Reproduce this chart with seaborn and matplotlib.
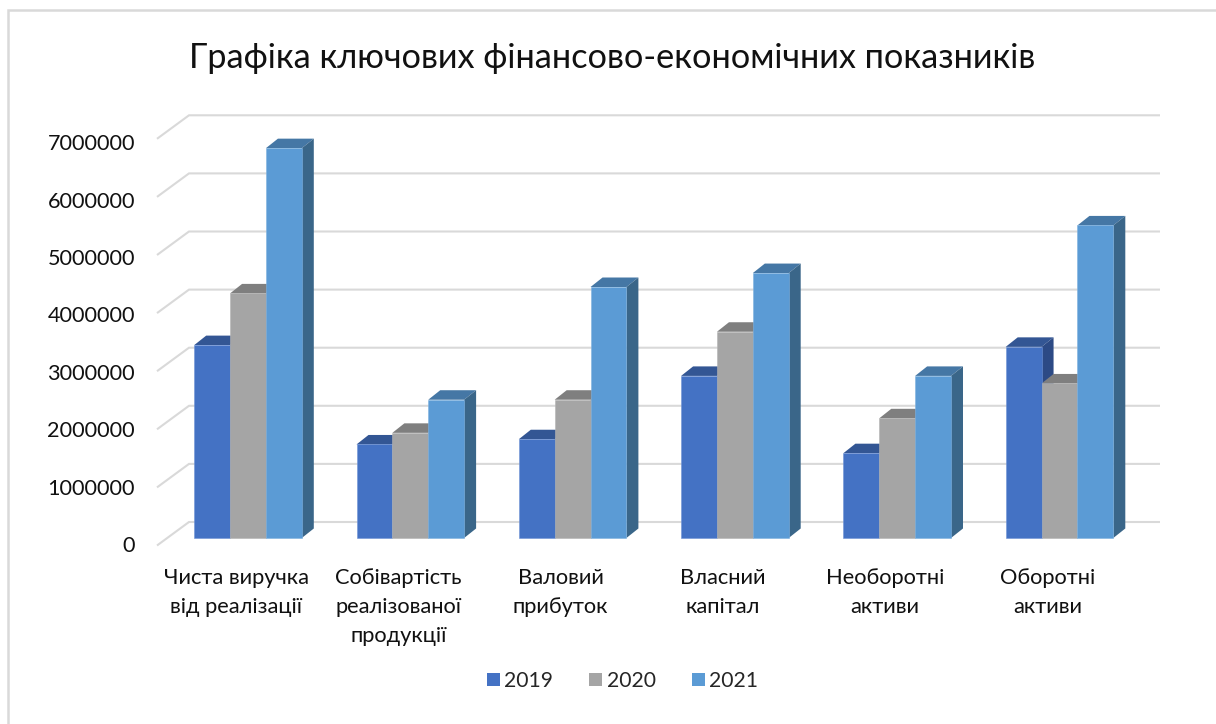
import matplotlib
matplotlib.use("Agg")
import matplotlib.pyplot as plt
from matplotlib.lines import Line2D
import pandas as pd
import seaborn as sns

categories = [
    "Чиста виручка\nвід реалізації",
    "Собівартість\nреалізованої\nпродукції",
    "Валовий\nприбуток",
    "Власний\nкапітал",
    "Необоротні\nактиви",
    "Оборотні\nактиви",
]
years = ["2019", "2020", "2021"]
values_2019 = [3320000, 1610000, 1700000, 2790000, 1460000, 3290000]
values_2020 = [4210000, 1810000, 2380000, 3550000, 2060000, 2660000]
values_2021 = [6710000, 2380000, 4320000, 4560000, 2790000, 5380000]
tick_values = [0, 1000000, 2000000, 3000000, 4000000, 5000000, 6000000, 7000000]

front_colors = ["#4472C4", "#A5A5A5", "#5B9BD5"]
edge_colors = ["#6F93D6", "#B4B4B4", "#7FB2E0"]
top_colors = ["#335694", "#7F7F7F", "#4577A5"]
side_colors = ["#2C4A85", "#7A7A7A", "#3A6689"]
grid_color = "#D9D9D9"
font_list = ["Lato", "Open Sans", "DejaVu Sans"]

sns.set_style("white")
plt.rcParams["font.family"] = font_list

W, H = 1216, 724
fig = plt.figure(figsize=(W / 100, H / 100), dpi=100, facecolor="white")

# Axes box in pixels, with scales chosen so one category is 162.3 px and 1e6 is 58.1 px
left_px, right_px, top_px, bottom_px = 150, 1170, 100, 560
ax = fig.add_axes([left_px / W, 1 - bottom_px / H, (right_px - left_px) / W, (bottom_px - top_px) / H])
px_x = 1 / 162.3
px_y = 1e6 / 58.1
center_px = 248.0

df = pd.DataFrame({
    "category": categories * 3,
    "year": sum([[y] * len(categories) for y in years], []),
    "value": values_2019 + values_2020 + values_2021,
})
sns.barplot(data=df, x="category", y="value", hue="year", palette=front_colors,
            width=107.6 / 162.3, gap=0, saturation=1, zorder=3, ax=ax, legend=False)
ax.set_xlim((left_px - center_px) * px_x, (right_px - center_px) * px_x)
ax.set_ylim((538 - bottom_px) * px_y, (538 - top_px) * px_y)

# Back wall and the slanted side-wall gridlines
wall_dy = 16 * px_y
front_dy = 7.5 * px_y
wall_left = (189 - center_px) * px_x
wall_right = (1160 - center_px) * px_x
front_left = (157 - center_px) * px_x
for v in tick_values:
    ax.plot([front_left, wall_left, wall_right], [v - front_dy, v + wall_dy, v + wall_dy],
            color=grid_color, lw=1.5, zorder=1, solid_capstyle="butt", solid_joinstyle="miter")

# Extruded tops and right faces of every bar
depth_x = 12 * px_x
depth_y = 9.5 * px_y
for k, container in enumerate(ax.containers):
    for bar in container:
        bar.set_edgecolor(edge_colors[k])
        bar.set_linewidth(0.4)
        x0, x1, h = bar.get_x(), bar.get_x() + bar.get_width(), bar.get_height()
        ax.fill([x0, x1, x1 + depth_x, x0 + depth_x], [h, h, h + depth_y, h + depth_y],
                color=top_colors[k], lw=0, zorder=2 + k / 10)
        ax.fill([x1, x1 + depth_x, x1 + depth_x, x1], [0, depth_y, h + depth_y, h],
                color=side_colors[k], lw=0, zorder=2 + k / 10)

sns.despine(ax=ax, left=True, bottom=True, right=True, top=True)
ax.patch.set_alpha(0)
ax.set_xlabel("")
ax.set_ylabel("")

# Value labels sit on the front plane, slightly tighter than the wall gridlines
ax.set_yticks([(538 - 544) * px_y + v * 57.4 / 58.1 for v in tick_values],
              labels=[str(v) for v in tick_values])
ax.tick_params(axis="y", length=0, pad=10.8, labelsize=15.6, labelcolor="#111111")

label_shift = 12.0 * px_x
ax.set_xticks([i - label_shift for i in range(len(categories))], labels=categories)
ax.tick_params(axis="x", length=0, pad=5.5, labelsize=15.75, labelcolor="#111111")
for t in ax.get_xticklabels():
    t.set_linespacing(1.57)
    t.set_verticalalignment("top")

fig.text(612 / W, 1 - 58 / H, "Графіка ключових фінансово-економічних показників",
         ha="center", va="center", fontsize=24.7, color="#111111")

handles = [c[0] for c in ax.containers]
leg = fig.legend(handles, years, loc="center", bbox_to_anchor=(622.5 / W, 1 - 681 / H), ncol=3,
                 frameon=False, fontsize=15.2, handlelength=0.62, handleheight=0.62,
                 handletextpad=0.2, columnspacing=1.72)
for h in leg.legend_handles:
    h.set_edgecolor("none")

# Chart frame: only the left and top rules are in view
fig.add_artist(Line2D([7.8 / W, 7.8 / W, 1], [0, 1 - 10 / H, 1 - 10 / H], transform=fig.transFigure,
                      color=grid_color, lw=1.8, solid_joinstyle="miter"))

fig.savefig("out.png", dpi=100)
